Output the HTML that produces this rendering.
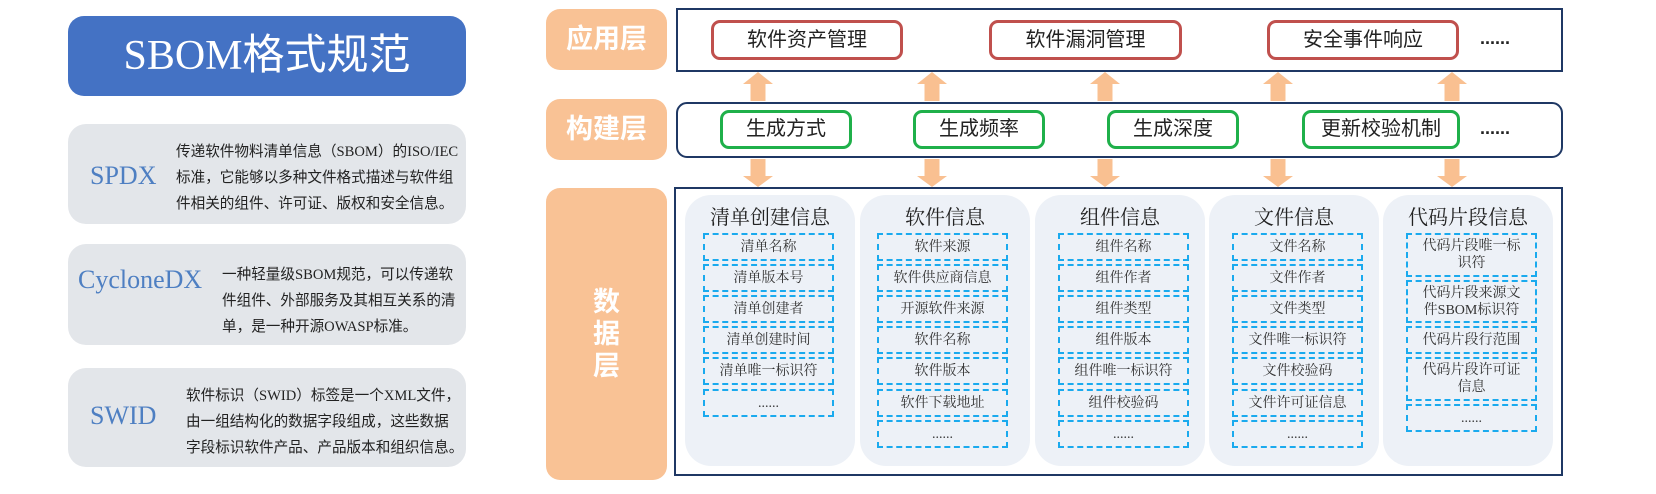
<!DOCTYPE html>
<html><head><meta charset="utf-8">
<style>
*{margin:0;padding:0;box-sizing:border-box}
body{width:1656px;height:494px;background:#fff;position:relative;overflow:hidden;font-family:"Liberation Sans","Noto Sans CJK SC",sans-serif}
.a{position:absolute}
.title{left:68px;top:16px;width:398px;height:80px;background:#4472c4;border-radius:16px;color:#fff;font-family:"Liberation Serif","Noto Sans CJK SC",serif;font-size:42px;text-align:center;line-height:80px}
.gray{left:68px;width:398px;background:#e3e6ea;border-radius:18px}
.nm{font-family:"Liberation Serif","Noto Serif CJK SC",serif;font-size:26px;color:#4e7fc2;line-height:30px}
.ds{font-family:"Liberation Serif","Noto Sans CJK SC",sans-serif;font-size:14.6px;color:#222;line-height:26px;white-space:nowrap}
.lab{left:546px;width:121px;background:#f9c295;border-radius:14px;color:#fff;font-weight:bold;font-size:27px;text-align:center;font-family:"Liberation Sans","Noto Sans CJK SC",sans-serif}
.frame{left:676px;width:887px;border:2px solid #1f3864}
.rb{height:40px;top:20px;border:3px solid #c0504d;border-radius:9px;font-size:20px;text-align:center;line-height:34px;color:#222}
.gb{height:39px;top:110px;border:3px solid #1fb04a;border-radius:9px;font-size:20px;text-align:center;line-height:33px;color:#222}
.dots{font-size:18px;color:#222;font-weight:bold}
.col{top:195px;width:170px;height:271px;background:#edf1f7;border-radius:26px}
.ct{width:170px;text-align:center;top:206px;line-height:24px;font-family:"Liberation Serif","Noto Serif CJK SC",serif;font-size:20px;color:#222}
.it{width:131px;border:2px dashed #1aaaee;font-family:"Liberation Serif","Noto Serif CJK SC",serif;font-size:14px;color:#333;text-align:center;display:flex;align-items:center;justify-content:center;line-height:17px}
</style></head><body>

<div class="a title">SBOM格式规范</div>

<div class="a gray" style="top:124px;height:100px"></div>
<div class="a nm" style="left:90px;top:161px">SPDX</div>
<div class="a ds" style="left:176px;top:139px">传递软件物料清单信息（SBOM）的ISO/IEC<br>标准，它能够以多种文件格式描述与软件组<br>件相关的组件、许可证、版权和安全信息。</div>

<div class="a gray" style="top:244px;height:101px"></div>
<div class="a nm" style="left:78px;top:265px">CycloneDX</div>
<div class="a ds" style="left:222px;top:262px">一种轻量级SBOM规范，可以传递软<br>件组件、外部服务及其相互关系的清<br>单，是一种开源OWASP标准。</div>

<div class="a gray" style="top:368px;height:99px"></div>
<div class="a nm" style="left:90px;top:401px">SWID</div>
<div class="a ds" style="left:186px;top:383px">软件标识（SWID）标签是一个XML文件，<br>由一组结构化的数据字段组成，这些数据<br>字段标识软件产品、产品版本和组织信息。</div>

<div class="a lab" style="top:9px;height:61px;line-height:61px">应用层</div>
<div class="a lab" style="top:99px;height:61px;line-height:61px">构建层</div>
<div class="a lab" style="top:188px;height:292px;line-height:32px;padding-top:98px">数<br>据<br>层</div>

<div class="a frame" style="top:8px;height:64px"></div>
<div class="a frame" style="top:102px;height:56px;border-radius:11px"></div>
<div class="a frame" style="left:674px;width:889px;top:187px;height:289px"></div>

<div class="a rb" style="left:711px;width:192px">软件资产管理</div>
<div class="a rb" style="left:989px;width:193px">软件漏洞管理</div>
<div class="a rb" style="left:1267px;width:192px">安全事件响应</div>
<div class="a dots" style="left:1480px;top:28px">......</div>

<div class="a gb" style="left:720px;width:132px">生成方式</div>
<div class="a gb" style="left:913px;width:132px">生成频率</div>
<div class="a gb" style="left:1107px;width:132px">生成深度</div>
<div class="a gb" style="left:1302px;width:158px">更新校验机制</div>
<div class="a dots" style="left:1480px;top:118px">......</div>

<svg class="a" style="left:0;top:0" width="1656" height="494">
<g fill="#f9c091">
<polygon points="743,84 750.5,84 750.5,101 765.5,101 765.5,84 773,84 758,72"/>
<polygon points="917,84 924.5,84 924.5,101 939.5,101 939.5,84 947,84 932,72"/>
<polygon points="1090,84 1097.5,84 1097.5,101 1112.5,101 1112.5,84 1120,84 1105,72"/>
<polygon points="1263,84 1270.5,84 1270.5,101 1285.5,101 1285.5,84 1293,84 1278,72"/>
<polygon points="1437,84 1444.5,84 1444.5,101 1459.5,101 1459.5,84 1467,84 1452,72"/>
<polygon points="743,176 750.5,176 750.5,159 765.5,159 765.5,176 773,176 758,187"/>
<polygon points="917,176 924.5,176 924.5,159 939.5,159 939.5,176 947,176 932,187"/>
<polygon points="1090,176 1097.5,176 1097.5,159 1112.5,159 1112.5,176 1120,176 1105,187"/>
<polygon points="1263,176 1270.5,176 1270.5,159 1285.5,159 1285.5,176 1293,176 1278,187"/>
<polygon points="1437,176 1444.5,176 1444.5,159 1459.5,159 1459.5,176 1467,176 1452,187"/>
</g>
</svg>

<div class="a col" style="left:685px"></div>
<div class="a col" style="left:860px"></div>
<div class="a col" style="left:1035px"></div>
<div class="a col" style="left:1209px"></div>
<div class="a col" style="left:1383px"></div>

<div class="a ct" style="left:685px">清单创建信息</div>
<div class="a ct" style="left:860px">软件信息</div>
<div class="a ct" style="left:1035px">组件信息</div>
<div class="a ct" style="left:1209px">文件信息</div>
<div class="a ct" style="left:1383px">代码片段信息</div>

<div class="a it" style="left:703px;top:233px;height:28px">清单名称</div>
<div class="a it" style="left:703px;top:264px;height:28px">清单版本号</div>
<div class="a it" style="left:703px;top:295px;height:28px">清单创建者</div>
<div class="a it" style="left:703px;top:326px;height:28px">清单创建时间</div>
<div class="a it" style="left:703px;top:357px;height:28px">清单唯一标识符</div>
<div class="a it" style="left:703px;top:389px;height:28px">......</div>

<div class="a it" style="left:877px;top:233px;height:28px">软件来源</div>
<div class="a it" style="left:877px;top:264px;height:28px">软件供应商信息</div>
<div class="a it" style="left:877px;top:295px;height:28px">开源软件来源</div>
<div class="a it" style="left:877px;top:326px;height:28px">软件名称</div>
<div class="a it" style="left:877px;top:357px;height:28px">软件版本</div>
<div class="a it" style="left:877px;top:389px;height:28px">软件下载地址</div>
<div class="a it" style="left:877px;top:420px;height:28px">......</div>

<div class="a it" style="left:1058px;top:233px;height:28px">组件名称</div>
<div class="a it" style="left:1058px;top:264px;height:28px">组件作者</div>
<div class="a it" style="left:1058px;top:295px;height:28px">组件类型</div>
<div class="a it" style="left:1058px;top:326px;height:28px">组件版本</div>
<div class="a it" style="left:1058px;top:357px;height:28px">组件唯一标识符</div>
<div class="a it" style="left:1058px;top:389px;height:28px">组件校验码</div>
<div class="a it" style="left:1058px;top:420px;height:28px">......</div>

<div class="a it" style="left:1232px;top:233px;height:28px">文件名称</div>
<div class="a it" style="left:1232px;top:264px;height:28px">文件作者</div>
<div class="a it" style="left:1232px;top:295px;height:28px">文件类型</div>
<div class="a it" style="left:1232px;top:326px;height:28px">文件唯一标识符</div>
<div class="a it" style="left:1232px;top:357px;height:28px">文件校验码</div>
<div class="a it" style="left:1232px;top:389px;height:28px">文件许可证信息</div>
<div class="a it" style="left:1232px;top:420px;height:28px">......</div>

<div class="a it" style="left:1406px;top:233px;height:44px">代码片段唯一标<br>识符</div>
<div class="a it" style="left:1406px;top:280px;height:43px">代码片段来源文<br>件SBOM标识符</div>
<div class="a it" style="left:1406px;top:326px;height:28px">代码片段行范围</div>
<div class="a it" style="left:1406px;top:357px;height:44px">代码片段许可证<br>信息</div>
<div class="a it" style="left:1406px;top:404px;height:28px">......</div>

</body></html>
